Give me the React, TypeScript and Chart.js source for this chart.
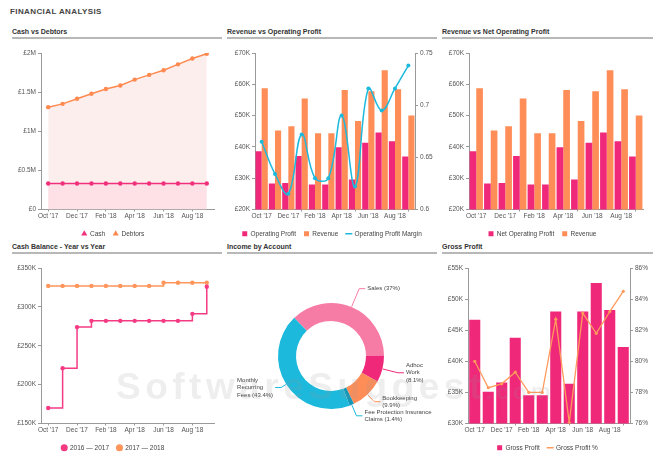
import React, { useEffect, useRef } from 'react';
import { Chart, registerables } from 'chart.js';
Chart.register(...registerables);

const FONT = "'Liberation Sans', Arial, sans-serif";

// ---------- data ----------
const months = ["Oct '17", "Nov '17", "Dec '17", "Jan '18", "Feb '18", "Mar '18", "Apr '18", "May '18", "Jun '18", "Jul '18", "Aug '18", "Sep '18"];

const cash = [333000, 333000, 333000, 333000, 333000, 333000, 333000, 333000, 333000, 333000, 333000, 333000];
const debtors = [1308000, 1350000, 1415000, 1480000, 1540000, 1585000, 1660000, 1720000, 1780000, 1855000, 1930000, 1990000];

const operatingProfit = [38600, 28300, 28500, 37100, 28000, 28000, 39900, 29600, 41300, 44600, 41800, 36900];
const revenue = [58700, 45200, 46600, 55500, 44400, 44400, 58200, 48300, 57800, 64500, 58400, 50000];
const operatingProfitMargin = [0.665, 0.634, 0.615, 0.672, 0.63, 0.63, 0.69, 0.622, 0.716, 0.695, 0.716, 0.738];
const netOperatingProfit = [38600, 28300, 28500, 37100, 28000, 28000, 39900, 29600, 41300, 44600, 41800, 36900];

const cashBalance2016 = [170000, 221000, 274000, 282000, 282000, 282000, 282000, 282000, 282000, 282000, 291000, 326000];
const cashBalance2017 = [327000, 327000, 327000, 327000, 327000, 327000, 327000, 327000, 331000, 331000, 331000, 331000];

const accounts = ['Sales', 'Adhoc Work', 'Bookkeeping', 'Fee Protection Insurance Claims', 'Monthly Recurring Fees'];
const incomeShare = [37, 8.1, 9.9, 1.4, 43.4];
const incomeLabelLines = [
  ['Sales (37%)'],
  ['Adhoc', 'Work', '(8.1%)'],
  ['Bookkeeping', '(9.9%)'],
  ['Fee Protection Insurance', 'Claims (1.4%)'],
  ['Monthly', 'Recurring', 'Fees (43.4%)'],
];

const grossProfit = [46700, 35100, 36600, 43800, 34550, 34550, 48000, 36400, 48000, 52600, 48250, 42300];
const grossProfitPct = [80.0, 78.3, 78.55, 79.3, 78.0, 78.0, 82.7, 76.06, 83.1, 81.8, 83.2, 84.5];

// ---------- styles ----------
const PINK = '#f0287a';
const ORANGE = '#ff8d57';
const CYAN = '#1cb9dc';
const SALES_PINK = '#f77ca5';
const DARK_CYAN = '#1597b8';
const incomeColors = [SALES_PINK, PINK, ORANGE, DARK_CYAN, CYAN];
const leaderLengths = [20, 16, 10, 12, 6];

const tickFont = { family: FONT, size: 6.5 };
const AXIS = '#9a9a9a';

function yAxis(o: any) {
  return {
    type: 'linear',
    position: o.position || 'left',
    min: o.min,
    max: o.max,
    ticks: { stepSize: o.step, callback: o.fmt, font: tickFont, color: '#555', padding: 2 },
    grid: { drawOnChartArea: false, drawTicks: true, tickLength: 3, color: AXIS },
    border: { display: true, color: AXIS },
    afterFit: (s: any) => { s.width = o.width; },
  };
}

function xAxis() {
  return {
    type: 'category',
    offset: true,
    ticks: { autoSkip: true, maxTicksLimit: 6, maxRotation: 0, minRotation: 0, font: tickFont, color: '#555', padding: 1 },
    grid: { drawOnChartArea: false, drawTicks: true, tickLength: 2, color: AXIS },
    border: { display: true, color: AXIS },
    afterFit: (s: any) => { s.height = 13; },
  };
}

function legend(styles: string[], solid: boolean, padding = 8) {
  return {
    display: true,
    position: 'bottom',
    labels: {
      usePointStyle: true,
      boxWidth: 5,
      boxHeight: 5,
      padding,
      color: '#444',
      font: { family: FONT, size: 6.5 },
      sort: (a: any, b: any) => a.datasetIndex - b.datasetIndex,
      generateLabels: (chart: any) => {
        const items = (Chart.defaults.plugins.legend.labels as any).generateLabels(chart);
        items.forEach((it: any) => {
          const ds = chart.data.datasets[it.datasetIndex];
          it.pointStyle = styles[it.datasetIndex];
          if (solid) it.fillStyle = ds.borderColor;
          if (it.pointStyle === 'line') { it.strokeStyle = ds.borderColor; it.lineWidth = 1.5; }
          if (it.pointStyle === 'rect') { it.lineWidth = 0; it.strokeStyle = ds.backgroundColor; }
        });
        return items;
      },
    },
  };
}

const base = (padding: any) => ({
  responsive: false,
  animation: false,
  devicePixelRatio: 1,
  layout: { padding },
});

const kFmt = (v: any) => `£${Math.round(v / 1000)}K`;

// ---------- configs ----------
const cashVsDebtorsConfig = () => ({
  type: 'line',
  data: {
    labels: months,
    datasets: [
      { label: 'Cash', data: cash, borderColor: '#f0307a', backgroundColor: '#fde1e7', fill: 'origin', pointRadius: 2.2, pointBackgroundColor: '#f0307a', pointBorderWidth: 0, borderWidth: 1.5 },
      { label: 'Debtors', data: debtors, borderColor: '#ff8a50', backgroundColor: '#fdeeee', fill: 'origin', pointRadius: 2.2, pointBackgroundColor: '#ff8a50', pointBorderWidth: 0, borderWidth: 1.5 },
    ],
  },
  options: {
    ...base({ top: 9, right: 8, left: 0, bottom: 0 }),
    plugins: { legend: legend(['triangle', 'triangle'], true), tooltip: { enabled: false } },
    scales: {
      x: xAxis(),
      y: yAxis({ min: 0, max: 2000000, step: 500000, width: 29, fmt: (v: any) => (v === 0 ? '£0' : `£${v / 1000000}M`) }),
    },
  },
});

const revVsOpConfig = (net: boolean) => ({
  type: 'bar',
  data: {
    labels: months,
    datasets: net
      ? [
          { label: 'Net Operating Profit', data: netOperatingProfit, backgroundColor: PINK, borderWidth: 0, categoryPercentage: 0.92, barPercentage: 1 },
          { label: 'Revenue', data: revenue, backgroundColor: ORANGE, borderWidth: 0, categoryPercentage: 0.92, barPercentage: 1 },
        ]
      : [
          { label: 'Operating Profit', data: operatingProfit, backgroundColor: PINK, borderWidth: 0, categoryPercentage: 0.92, barPercentage: 1, order: 1 },
          { label: 'Revenue', data: revenue, backgroundColor: ORANGE, borderWidth: 0, categoryPercentage: 0.92, barPercentage: 1, order: 1 },
          { type: 'line', label: 'Operating Profit Margin', data: operatingProfitMargin, yAxisID: 'y1', borderColor: CYAN, backgroundColor: CYAN, borderWidth: 1.5, tension: 0.4, pointRadius: 2, pointBackgroundColor: CYAN, pointBorderWidth: 0, order: 0 },
        ],
  },
  options: {
    ...base({ top: 9, right: net ? 10 : 0, left: 0, bottom: 0 }),
    plugins: { legend: legend(net ? ['rect', 'rect'] : ['rect', 'rect', 'line'], false), tooltip: { enabled: false } },
    scales: net
      ? {
          x: xAxis(),
          y: yAxis({ min: 20000, max: 70000, step: 10000, width: 27, fmt: kFmt }),
        }
      : {
          x: xAxis(),
          y: yAxis({ min: 20000, max: 70000, step: 10000, width: 28, fmt: kFmt }),
          y1: yAxis({ position: 'right', min: 0.6, max: 0.75, step: 0.05, width: 22, fmt: (v: any) => String(Number(v.toFixed(2))) }),
        },
  },
});

const cashBalanceConfig = () => ({
  type: 'line',
  data: {
    labels: months,
    datasets: [
      { label: '2016 — 2017', data: cashBalance2016, borderColor: '#f53a84', backgroundColor: '#f53a84', stepped: true, fill: false, pointRadius: 2.2, pointBorderWidth: 0, borderWidth: 1.5 },
      { label: '2017 — 2018', data: cashBalance2017, borderColor: '#ff955a', backgroundColor: '#ff955a', stepped: true, fill: false, pointRadius: 2.2, pointBorderWidth: 0, borderWidth: 1.5 },
    ],
  },
  options: {
    ...base({ top: 10, right: 8, left: 0, bottom: 0 }),
    plugins: { legend: legend(['circle', 'circle'], true), tooltip: { enabled: false } },
    scales: {
      x: xAxis(),
      y: yAxis({ min: 150000, max: 350000, step: 50000, width: 29, fmt: kFmt }),
    },
  },
});

const doughnutLabelPlugin = {
  id: 'doughnutLabels',
  afterDatasetsDraw(chart: any) {
    const ctx = chart.ctx;
    const meta = chart.getDatasetMeta(0);
    ctx.save();
    ctx.font = `6px ${FONT}`;
    ctx.textBaseline = 'middle';
    ctx.textAlign = 'left';
    meta.data.forEach((arc: any, i: number) => {
      const { x, y, startAngle, endAngle, outerRadius } = arc.getProps(['x', 'y', 'startAngle', 'endAngle', 'outerRadius'], true);
      const mid = (startAngle + endAngle) / 2;
      const c = Math.cos(mid);
      const s = Math.sin(mid);
      const r0 = outerRadius + 0.5;
      const r1 = outerRadius + leaderLengths[i];
      const x0 = x + c * r0, y0 = y + s * r0;
      const x1 = x + c * r1, y1 = y + s * r1;
      const side = c >= 0 ? 1 : -1;
      const x2 = x1 + side * 6;
      ctx.strokeStyle = i === 3 ? CYAN : incomeColors[i];
      ctx.lineWidth = 1;
      ctx.beginPath();
      ctx.moveTo(x0, y0);
      ctx.lineTo(x1, y1);
      ctx.lineTo(x2, y1);
      ctx.stroke();
      const lines = incomeLabelLines[i];
      const lh = 7.5;
      const w = Math.max(...lines.map((l) => ctx.measureText(l).width));
      const tx = side > 0 ? x2 + 2 : x2 - 2 - w;
      const ty = y1 - ((lines.length - 1) * lh) / 2;
      ctx.fillStyle = '#444';
      lines.forEach((l, k) => ctx.fillText(l, tx, ty + k * lh));
    });
    ctx.restore();
  },
};

const incomeConfig = () => ({
  type: 'doughnut',
  data: {
    labels: accounts,
    datasets: [{ data: incomeShare, backgroundColor: incomeColors, borderWidth: 0 }],
  },
  options: {
    ...base({ top: 45, right: 53, left: 51, bottom: 44 }),
    cutout: '66%',
    rotation: -44,
    plugins: { legend: { display: false }, tooltip: { enabled: false } },
  },
  plugins: [doughnutLabelPlugin],
});

const grossProfitConfig = () => ({
  type: 'bar',
  data: {
    labels: months,
    datasets: [
      { label: 'Gross Profit', data: grossProfit, backgroundColor: PINK, borderWidth: 0, categoryPercentage: 0.82, barPercentage: 1, order: 1 },
      { type: 'line', label: 'Gross Profit %', data: grossProfitPct, yAxisID: 'y1', borderColor: '#ff9a5c', backgroundColor: '#ff9a5c', borderWidth: 1.3, tension: 0, pointRadius: 1.6, pointBorderWidth: 0, order: 0 },
    ],
  },
  options: {
    ...base({ top: 10, right: 0, left: 0, bottom: 0 }),
    plugins: { legend: legend(['rect', 'line'], false), tooltip: { enabled: false } },
    scales: {
      x: xAxis(),
      y: yAxis({ min: 30000, max: 55000, step: 5000, width: 26, fmt: kFmt }),
      y1: yAxis({ position: 'right', min: 76, max: 86, step: 2, width: 23, fmt: (v: any) => `${v}%` }),
    },
  },
});

// ---------- components ----------
function ChartBox({ left, top, width, height, make }: any) {
  const ref = useRef<HTMLCanvasElement>(null);
  useEffect(() => {
    const chart = new Chart(ref.current as any, make() as any);
    return () => chart.destroy();
  }, []);
  return (
    <canvas
      ref={ref}
      width={width}
      height={height}
      style={{ position: 'absolute', left, top, width, height }}
    />
  );
}

function PanelTitle({ left, top, width, text }: any) {
  return (
    <>
      <div style={{ position: 'absolute', left, top: top - 5, font: `bold 7px ${FONT}`, color: '#333', whiteSpace: 'nowrap', lineHeight: '10px' }}>{text}</div>
      <div style={{ position: 'absolute', left, top: top + 5, width, height: 2, background: '#b8b8b8' }} />
    </>
  );
}

export default function App() {
  return (
    <div style={{ position: 'absolute', left: 0, top: 0, width: 653, height: 453, overflow: 'hidden', background: '#fff', fontFamily: FONT }}>
      <div style={{ position: 'absolute', left: 10, top: 7, font: `bold 8px ${FONT}`, color: '#444', letterSpacing: 0.4, lineHeight: '10px' }}>FINANCIAL ANALYSIS</div>

      <PanelTitle left={12} top={32} width={210} text="Cash vs Debtors" />
      <PanelTitle left={227} top={32} width={210} text="Revenue vs Operating Profit" />
      <PanelTitle left={442} top={32} width={211} text="Revenue vs Net Operating Profit" />
      <PanelTitle left={12} top={247} width={210} text="Cash Balance - Year vs Year" />
      <PanelTitle left={227} top={247} width={210} text="Income by Account" />
      <PanelTitle left={442} top={247} width={211} text="Gross Profit" />

      <ChartBox left={12} top={44} width={210} height={203} make={cashVsDebtorsConfig} />
      <ChartBox left={227} top={44} width={210} height={203} make={() => revVsOpConfig(false)} />
      <ChartBox left={442} top={44} width={211} height={203} make={() => revVsOpConfig(true)} />
      <ChartBox left={12} top={258} width={210} height={203} make={cashBalanceConfig} />
      <ChartBox left={227} top={258} width={210} height={195} make={incomeConfig} />
      <ChartBox left={442} top={258} width={211} height={203} make={grossProfitConfig} />

      <div style={{ position: 'absolute', left: 116, top: 366, font: `bold 37px ${FONT}`, letterSpacing: 4.5, color: 'rgba(150,150,150,0.16)', whiteSpace: 'nowrap', pointerEvents: 'none' }}>
        SoftwareSuggest<span style={{ fontSize: 22 }}>.com</span>
      </div>
    </div>
  );
}
